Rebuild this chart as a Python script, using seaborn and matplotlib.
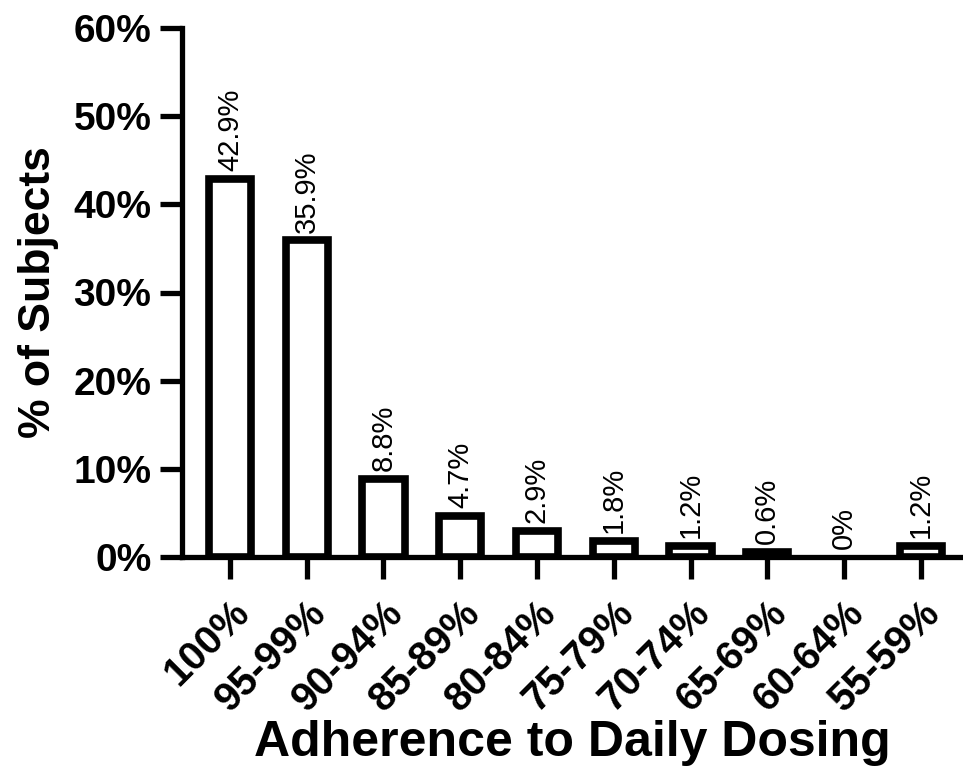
import matplotlib
matplotlib.use("Agg")
import matplotlib.pyplot as plt
import seaborn as sns
import pandas as pd

categories = ["100%", "95-99%", "90-94%", "85-89%", "80-84%", "75-79%",
              "70-74%", "65-69%", "60-64%", "55-59%"]
values = [42.9, 35.9, 8.8, 4.7, 2.9, 1.8, 1.2, 0.6, 0.0, 1.2]
labels = ["42.9%", "35.9%", "8.8%", "4.7%", "2.9%", "1.8%", "1.2%", "0.6%", "0%", "1.2%"]
yticks = [0, 10, 20, 30, 40, 50, 60]
ytick_labels = ["0%", "10%", "20%", "30%", "40%", "50%", "60%"]

sns.set_theme(style="ticks")
plt.rcParams['font.family'] = ['Liberation Sans', 'DejaVu Sans']
plt.rcParams['text.color'] = 'black'
plt.rcParams['axes.labelcolor'] = 'black'
plt.rcParams['xtick.color'] = 'black'
plt.rcParams['ytick.color'] = 'black'

df = pd.DataFrame({"cat": categories, "val": values})

fig = plt.figure(figsize=(9.63, 7.78), dpi=100)
ax = fig.add_axes([182/963, 1 - 557/778, (963 - 182)/963, (557 - 28)/778])

sns.barplot(data=df, x="cat", y="val", ax=ax, color="white", edgecolor="black",
            linewidth=5.5, width=0.55, saturation=1)
for p in ax.patches:
    if p.get_height() == 0:
        p.set_linewidth(0)

for i, (v, lab) in enumerate(zip(values, labels)):
    ax.text(i, v + 0.9, lab, rotation=90, ha="center", va="bottom",
            fontsize=21, color="black")

ax.set_ylim(0, 60)
ax.set_xlim(-0.625, 9.55)
ax.set_yticks(yticks)
ax.set_yticklabels(ytick_labels, fontsize=28, fontweight="bold")
ax.set_xticks(range(len(categories)))
ax.set_xticklabels(categories, fontsize=29, fontweight="bold", rotation=45,
                   ha="right", rotation_mode="anchor")
ax.tick_params(axis="both", length=16, width=3.8, color="black", pad=6)
ax.tick_params(axis="x", pad=10)
for s in ["top", "right"]:
    ax.spines[s].set_visible(False)
for s in ["left", "bottom"]:
    ax.spines[s].set_linewidth(3.8)
    ax.spines[s].set_color("black")

ax.set_xlabel("Adherence to Daily Dosing", fontsize=36, fontweight="bold")
ax.set_ylabel("% of Subjects", fontsize=32, fontweight="bold")
ax.xaxis.set_label_coords(0.5, -0.308)
ax.yaxis.set_label_coords(-0.158, 0.5)

fig.savefig("out.png", dpi=100)
